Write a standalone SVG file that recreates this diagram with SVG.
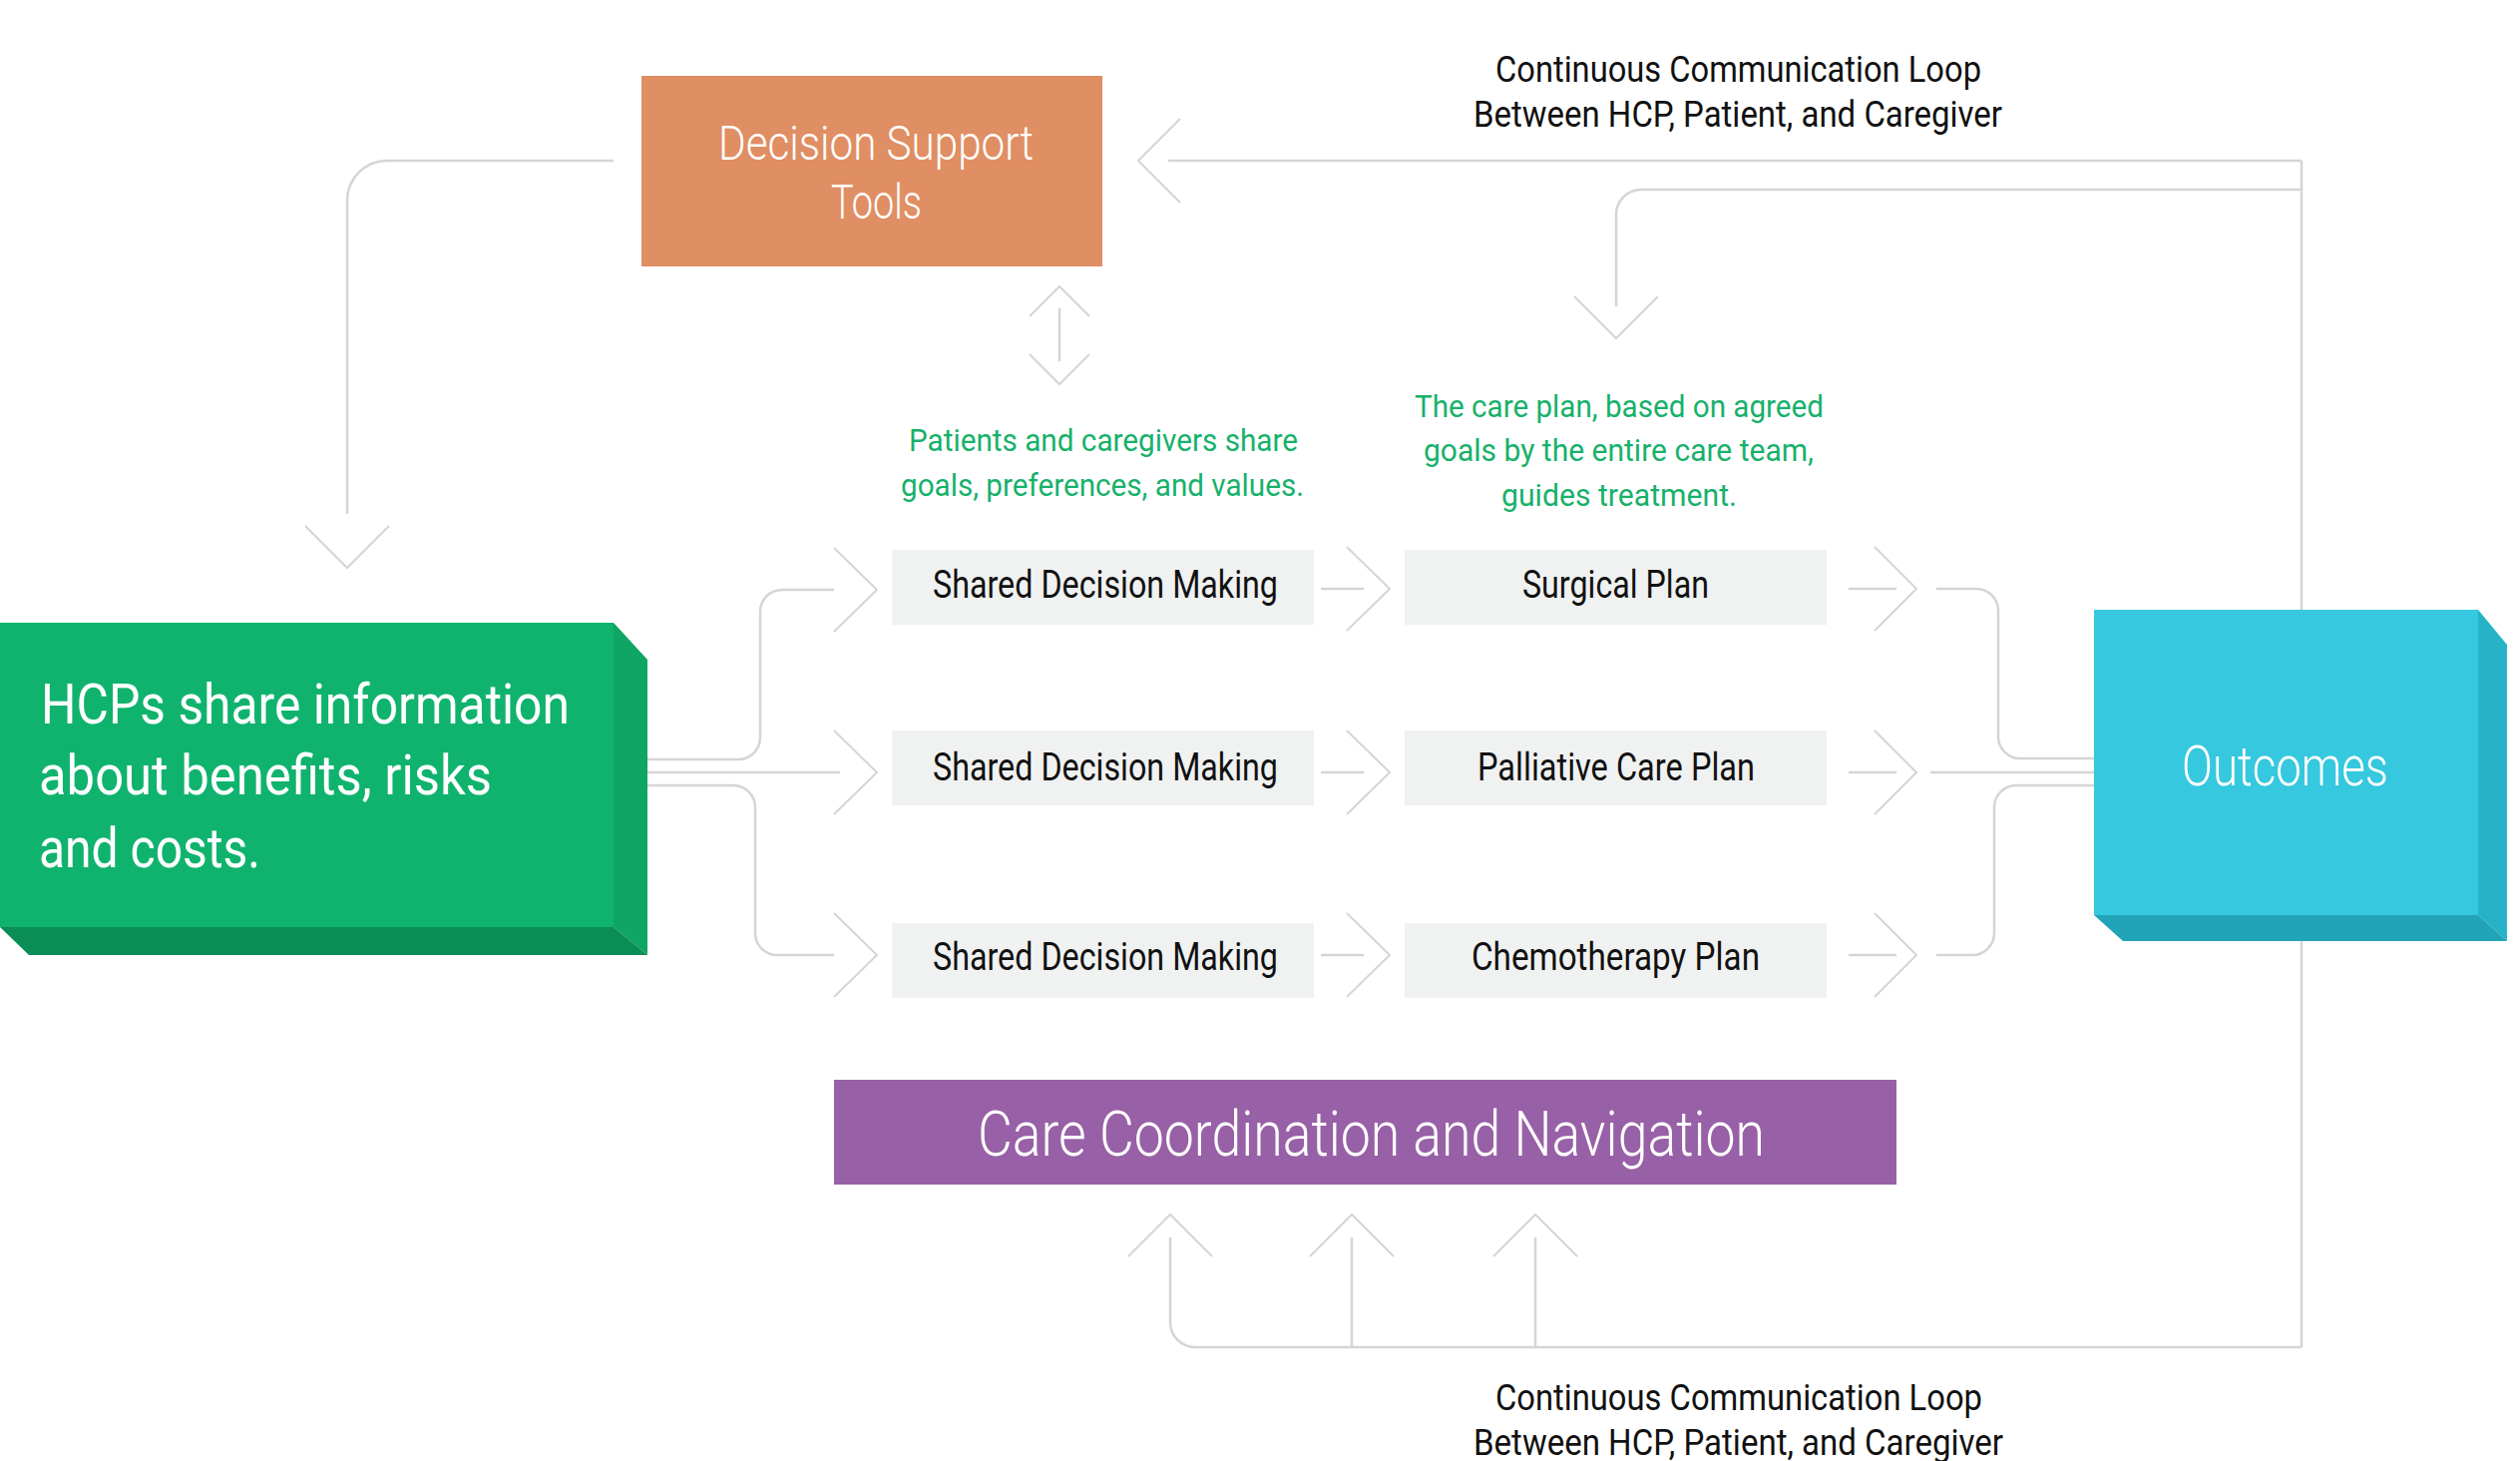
<svg xmlns="http://www.w3.org/2000/svg" width="2526" height="1464" viewBox="0 0 2526 1464">
<defs>
<style>
.ln{fill:none;stroke:#D5D5D5;stroke-width:2.5}
.ah{fill:none;stroke:#D5D5D5;stroke-width:2}
.lt{font-family:Roboto,"Liberation Sans",sans-serif;font-weight:300;fill:#FFFFFF}
.wt{font-family:Roboto,"Liberation Sans",sans-serif;font-weight:400;fill:#FFFFFF}
.bk{font-family:Roboto,"Liberation Sans",sans-serif;font-weight:400;fill:#111111}
.gn{font-family:Roboto,"Liberation Sans",sans-serif;font-weight:400;fill:#17B16B}
.step{fill:#F0F1F1}
</style>
</defs>
<rect width="2526" height="1464" fill="#FFFFFF"/>
<g id="connectors">
<path class="ln" d="M615,161 H388 A40,40 0 0 0 348,201 V515"/>
<path class="ah" d="M306,527 L348,569 L390,527"/>
<path class="ln" d="M2307,161 H1171"/>
<path class="ah" d="M1183,119 L1141,161 L1183,203"/>
<path class="ln" d="M2307,161 V1350"/>
<path class="ln" d="M2307,190 H1645 A25,25 0 0 0 1620,215 V307"/>
<path class="ah" d="M1578,297 L1620,339 L1662,297"/>
<path class="ln" d="M2307,1350 H1198 A25,25 0 0 1 1173,1325 V1240"/>
<path class="ln" d="M1355,1350 V1240"/>
<path class="ln" d="M1539,1350 V1240"/>
<path class="ah" d="M1131,1259 L1173,1217 L1215,1259"/>
<path class="ah" d="M1313,1259 L1355,1217 L1397,1259"/>
<path class="ah" d="M1497,1259 L1539,1217 L1581,1259"/>
<path class="ln" d="M1062,309 V362"/>
<path class="ah" d="M1032,317 L1062,287 L1092,317"/>
<path class="ah" d="M1032,355 L1062,385 L1092,355"/>
<path class="ln" d="M649,761 H740 A22,22 0 0 0 762,739 V613 A22,22 0 0 1 784,591 H836"/>
<path class="ln" d="M649,774 H842"/>
<path class="ln" d="M649,787 H735 A22,22 0 0 1 757,809 V935 A22,22 0 0 0 779,957 H836"/>
<path class="ah" d="M836,549 L879,591 L836,633"/>
<path class="ah" d="M836,732 L879,774 L836,816"/>
<path class="ah" d="M836,915 L879,957 L836,999"/>
<path class="ln" d="M1324,590 H1367"/>
<path class="ln" d="M1324,774 H1367"/>
<path class="ln" d="M1324,957 H1367"/>
<path class="ah" d="M1350,548 L1393,590 L1350,632"/>
<path class="ah" d="M1350,732 L1393,774 L1350,816"/>
<path class="ah" d="M1350,915 L1393,957 L1350,999"/>
<path class="ln" d="M1853,590 H1901"/>
<path class="ln" d="M1853,774 H1901"/>
<path class="ln" d="M1853,957 H1901"/>
<path class="ah" d="M1879,548 L1921,590 L1879,632"/>
<path class="ah" d="M1879,732 L1921,774 L1879,816"/>
<path class="ah" d="M1879,915 L1921,957 L1879,999"/>
<path class="ln" d="M1941,590 H1981 A22,22 0 0 1 2003,612 V738 A22,22 0 0 0 2025,760 H2099"/>
<path class="ln" d="M1935,774 H2099"/>
<path class="ln" d="M1941,957 H1977 A22,22 0 0 0 1999,935 V809 A22,22 0 0 1 2021,787 H2099"/>
</g>
<g id="decision-support-tools">
<rect x="643" y="76" width="462" height="191" fill="#E08E63"/>
<text class="lt" x="720" y="160" font-size="49" textLength="316" lengthAdjust="spacingAndGlyphs">Decision Support</text>
<text class="lt" x="833" y="219" font-size="49" textLength="91" lengthAdjust="spacingAndGlyphs">Tools</text>
</g>
<g id="hcps">
<polygon points="615,624 649,661 649,957 615,929" fill="#0FA562"/>
<polygon points="0,929 615,929 649,957 29,957" fill="#0B8D56"/>
<rect x="0" y="624" width="615" height="305" fill="#10B36D"/>
<text class="wt" x="41" y="725" font-size="56" textLength="530" lengthAdjust="spacingAndGlyphs">HCPs share information</text>
<text class="wt" x="39" y="796" font-size="56" textLength="454" lengthAdjust="spacingAndGlyphs">about benefits, risks</text>
<text class="wt" x="39" y="869" font-size="56" textLength="222" lengthAdjust="spacingAndGlyphs">and costs.</text>
</g>
<g id="note-patients">
<text class="gn" x="911" y="452" font-size="31" textLength="390" lengthAdjust="spacingAndGlyphs">Patients and caregivers share</text>
<text class="gn" x="903" y="497" font-size="31" textLength="404" lengthAdjust="spacingAndGlyphs">goals, preferences, and values.</text>
</g>
<g id="note-care-plan">
<text class="gn" x="1418" y="418" font-size="31" textLength="410" lengthAdjust="spacingAndGlyphs">The care plan, based on agreed</text>
<text class="gn" x="1427" y="462" font-size="31" textLength="391" lengthAdjust="spacingAndGlyphs">goals by the entire care team,</text>
<text class="gn" x="1505" y="507" font-size="31" textLength="236" lengthAdjust="spacingAndGlyphs">guides treatment.</text>
</g>
<g id="sdm-1">
<rect class="step" x="894" y="551" width="423" height="75"/>
<text class="bk" x="935" y="599" font-size="38" textLength="346" lengthAdjust="spacingAndGlyphs">Shared Decision Making</text>
</g>
<g id="sdm-2">
<rect class="step" x="894" y="732" width="423" height="75"/>
<text class="bk" x="935" y="782" font-size="38" textLength="346" lengthAdjust="spacingAndGlyphs">Shared Decision Making</text>
</g>
<g id="sdm-3">
<rect class="step" x="894" y="925" width="423" height="75"/>
<text class="bk" x="935" y="972" font-size="38" textLength="346" lengthAdjust="spacingAndGlyphs">Shared Decision Making</text>
</g>
<g id="surgical-plan">
<rect class="step" x="1408" y="551" width="423" height="75"/>
<text class="bk" x="1526" y="599" font-size="38" textLength="187" lengthAdjust="spacingAndGlyphs">Surgical Plan</text>
</g>
<g id="palliative-care-plan">
<rect class="step" x="1408" y="732" width="423" height="75"/>
<text class="bk" x="1481" y="782" font-size="38" textLength="278" lengthAdjust="spacingAndGlyphs">Palliative Care Plan</text>
</g>
<g id="chemotherapy-plan">
<rect class="step" x="1408" y="925" width="423" height="75"/>
<text class="bk" x="1475" y="972" font-size="38" textLength="289" lengthAdjust="spacingAndGlyphs">Chemotherapy Plan</text>
</g>
<g id="outcomes">
<polygon points="2484,611 2513,646 2513,943 2484,917" fill="#26B3C8"/>
<polygon points="2099,917 2484,917 2513,943 2128,943" fill="#21A3B8"/>
<rect x="2099" y="611" width="385" height="306" fill="#35C8DE"/>
<text class="lt" x="2187" y="787" font-size="55" textLength="207" lengthAdjust="spacingAndGlyphs">Outcomes</text>
</g>
<g id="care-coordination">
<rect x="836" y="1082" width="1065" height="105" fill="#9860A6"/>
<text class="lt" x="980" y="1158" font-size="63" textLength="789" lengthAdjust="spacingAndGlyphs">Care Coordination and Navigation</text>
</g>
<g id="loop-label-top">
<text class="bk" x="1499" y="82" font-size="37" textLength="487" lengthAdjust="spacingAndGlyphs">Continuous Communication Loop</text>
<text class="bk" x="1477" y="127" font-size="37" textLength="530" lengthAdjust="spacingAndGlyphs">Between HCP, Patient, and Caregiver</text>
</g>
<g id="loop-label-bottom">
<text class="bk" x="1499" y="1413" font-size="37" textLength="488" lengthAdjust="spacingAndGlyphs">Continuous Communication Loop</text>
<text class="bk" x="1477" y="1458" font-size="37" textLength="531" lengthAdjust="spacingAndGlyphs">Between HCP, Patient, and Caregiver</text>
</g>
</svg>
